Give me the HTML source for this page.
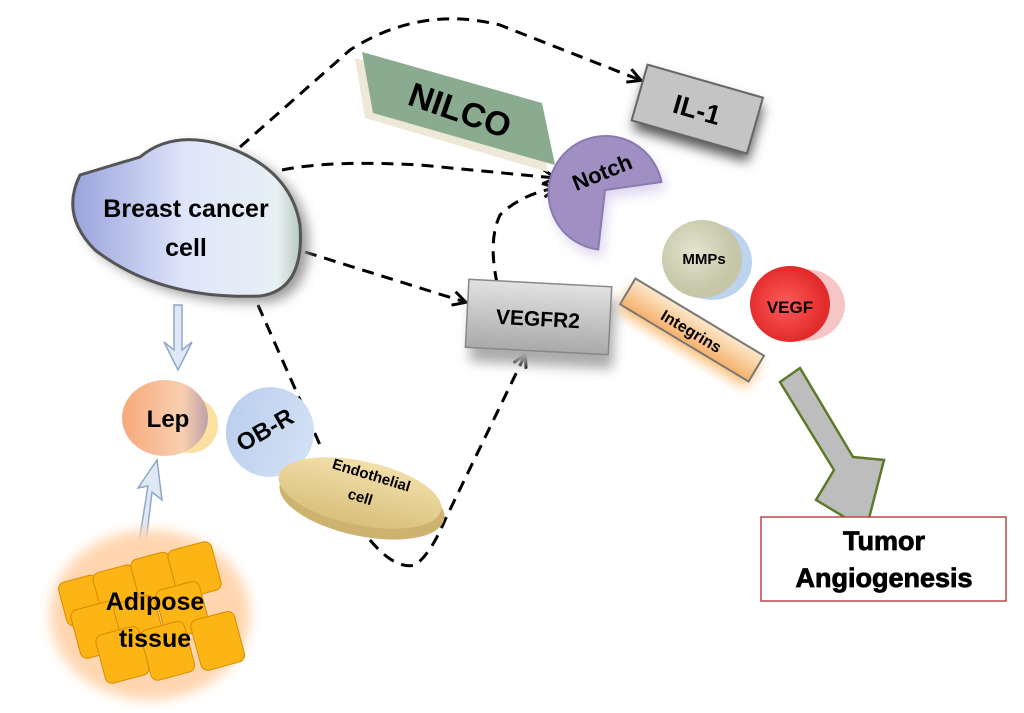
<!DOCTYPE html>
<html><head><meta charset="utf-8"><style>
body{margin:0;background:#fff;}
svg{display:block;font-family:"Liberation Sans",sans-serif;font-weight:bold;}
</style></head><body>
<svg width="1024" height="713" viewBox="0 0 1024 713">
<defs>
<linearGradient id="bc" x1="0" x2="1"><stop offset="0" stop-color="#9aa3dc"/><stop offset="0.5" stop-color="#dfe6fb"/><stop offset="0.9" stop-color="#e6f0f3"/><stop offset="1" stop-color="#b8c8c0"/></linearGradient>
<linearGradient id="lep" x1="0" x2="1"><stop offset="0" stop-color="#f7a97b"/><stop offset="0.7" stop-color="#f9cfb0"/><stop offset="1" stop-color="#c0a0a8"/></linearGradient>
<linearGradient id="obr" x1="0" x2="1"><stop offset="0" stop-color="#bcd0ee"/><stop offset="1" stop-color="#d2e0f4"/></linearGradient>
<linearGradient id="endo" x1="0" y1="0" x2="0" y2="1"><stop offset="0" stop-color="#f2dfaa"/><stop offset="1" stop-color="#d8c07c"/></linearGradient>
<linearGradient id="vr" x1="0" y1="0" x2="0" y2="1"><stop offset="0" stop-color="#e2e2e2"/><stop offset="1" stop-color="#a9a9a9"/></linearGradient>
<linearGradient id="intg" x1="0" y1="0" x2="0" y2="1"><stop offset="0" stop-color="#fde9cd"/><stop offset="1" stop-color="#f6b06a"/></linearGradient>
<radialGradient id="mm" cx="0.4" cy="0.4"><stop offset="0" stop-color="#e4e4cf"/><stop offset="1" stop-color="#c6c6a8"/></radialGradient>
<radialGradient id="vg" cx="0.45" cy="0.5"><stop offset="0" stop-color="#ff5a5a"/><stop offset="1" stop-color="#e22a2a"/></radialGradient>
<filter id="sh" x="-30%" y="-30%" width="160%" height="160%"><feGaussianBlur stdDeviation="6"/></filter>
<marker id="ah" markerWidth="16" markerHeight="16" refX="13" refY="8" orient="auto" markerUnits="userSpaceOnUse"><path d="M1,1 L14,8 L1,15" fill="none" stroke="#000" stroke-width="3"/></marker>
</defs>

<!-- dashed connectors -->
<g fill="none" stroke="#000" stroke-width="3" stroke-dasharray="12,8">
<path d="M240,147 L350,50 Q420,5 500,25 L640,80" marker-end="url(#ah)"/>
<path d="M282,170 Q330,160 420,165 L555,178" marker-end="url(#ah)"/>
<path d="M305,252 L465,302" marker-end="url(#ah)"/>
<path d="M258,305 L320,445"/>
<path d="M370,540 Q395,570 415,565 Q430,555 445,520 L525,355" marker-end="url(#ah)"/>
<path d="M497,283 Q488,240 500,215 Q520,195 555,188" marker-end="url(#ah)"/>
</g>

<!-- NILCO -->
<polygon points="355,58 535,112 548,172 365,118" fill="#eee8d8"/>
<polygon points="362,52 542,103 555,165 373,113" fill="#8aab90"/>
<text x="460" y="122" font-size="34" text-anchor="middle" transform="rotate(19 460 110)">NILCO</text>

<!-- IL-1 -->
<g transform="rotate(16 697 110)">
<rect x="640" y="88" width="120" height="58" fill="#555" filter="url(#sh)"/>
<rect x="637" y="80" width="120" height="58" fill="#c4c4c4" stroke="#666" stroke-width="2"/>
<text x="697" y="119" font-size="27" text-anchor="middle">IL-1</text>
</g>

<!-- Breast cancer cell -->
<path d="M80,175 Q130,160 140,157 Q170,132 215,143 Q290,165 300,225 Q305,290 260,296 Q160,300 95,250 Q60,215 80,175 Z" fill="#999" filter="url(#sh)" transform="translate(8,6)"/>
<path d="M80,175 Q130,160 140,157 Q170,132 215,143 Q290,165 300,225 Q305,290 260,296 Q160,300 95,250 Q60,215 80,175 Z" fill="url(#bc)" stroke="#555" stroke-width="3"/>
<text x="186" y="217" font-size="25" text-anchor="middle">Breast cancer</text>
<text x="186" y="256" font-size="25" text-anchor="middle">cell</text>

<!-- Notch -->
<path d="M605,190 L662,190 A57,57 0 1 0 590,248 Z" fill="#ddd6ee" filter="url(#sh)" transform="translate(4,8) rotate(-8 605 190)"/>
<path d="M605,190 L662,190 A57,57 0 1 0 590,248 Z" fill="#a08fc2" stroke="#8a7ab0" stroke-width="2" transform="rotate(-8 605 190)"/>
<text x="602" y="180" font-size="22" text-anchor="middle" transform="rotate(-22 602 172)">Notch</text>

<!-- MMPs, VEGF -->
<ellipse cx="712" cy="262" rx="40" ry="38" fill="#bcd4ee"/>
<ellipse cx="702" cy="259" rx="40" ry="39" fill="url(#mm)"/>
<text x="704" y="264" font-size="15" text-anchor="middle">MMPs</text>
<ellipse cx="805" cy="305" rx="40" ry="36" fill="#f6c5c5"/>
<ellipse cx="790" cy="304" rx="40" ry="38" fill="url(#vg)"/>
<text x="790" y="313" font-size="17" text-anchor="middle">VEGF</text>

<!-- Integrins -->
<g transform="rotate(31 692 330)">
<rect x="618" y="322" width="150" height="30" fill="#fbbf7a" filter="url(#sh)"/>
<rect x="617" y="315" width="150" height="30" fill="url(#intg)" stroke="#777" stroke-width="2"/>
<text x="692" y="337" font-size="16" text-anchor="middle">Integrins</text>
</g>

<!-- VEGFR2 -->
<g transform="rotate(3 538 318)">
<rect x="472" y="295" width="143" height="70" fill="#aaa" filter="url(#sh)"/>
<rect x="467" y="283" width="143" height="68" fill="url(#vr)" stroke="#888" stroke-width="1.5"/>
<text x="538" y="326" font-size="21" text-anchor="middle">VEGFR2</text>
</g>

<!-- Big arrow -->
<polygon points="780,382 800,368 853,457 884,460 866,530 816,500 834,470" fill="#bdbdbd" stroke="#5c7a2a" stroke-width="2.5"/>

<!-- Tumor box -->
<rect x="761" y="517" width="245" height="84" fill="#fff" stroke="#b84848" stroke-width="1.5"/>
<text x="884" y="550" font-size="27" text-anchor="middle" stroke="#000" stroke-width="0.8">Tumor</text>
<text x="884" y="587" font-size="27" text-anchor="middle" stroke="#000" stroke-width="0.8">Angiogenesis</text>

<!-- Lep, OB-R -->
<ellipse cx="190" cy="425" rx="28" ry="28" fill="#fbe0a0"/>
<ellipse cx="165" cy="418" rx="43" ry="38" fill="url(#lep)"/>
<text x="168" y="427" font-size="24" text-anchor="middle">Lep</text>
<ellipse cx="270" cy="432" rx="44" ry="45" fill="url(#obr)" transform="rotate(20 270 432)"/>
<text x="265" y="438" font-size="24" text-anchor="middle" transform="rotate(-30 265 430)">OB-R</text>

<!-- Endothelial -->
<ellipse cx="362" cy="502" rx="84" ry="34" fill="#cdb270" transform="rotate(12 362 502)"/>
<ellipse cx="360" cy="493" rx="83" ry="32" fill="url(#endo)" transform="rotate(12 360 493)"/>
<text x="370" y="480" font-size="15" text-anchor="middle" transform="rotate(17 370 480)">Endothelial</text>
<text x="360" y="502" font-size="15" text-anchor="middle" transform="rotate(17 360 498)">cell</text>

<!-- small arrows -->
<g fill="#dfe8f4" stroke="#8fa8c8" stroke-width="1.5">
<polygon points="174,305 182,305 182,350 192,342 178,370 164,342 174,350"/>
<polygon points="139,542 146,542 152,492 162,500 157,460 138,488 148,486"/>
</g>

<!-- Adipose tissue -->
<ellipse cx="150" cy="615" rx="100" ry="85" fill="#ffd6b0" filter="url(#sh)"/>
<g fill="#fdb515" stroke="#d98a00" stroke-width="1">
<rect x="62" y="578" width="40" height="45" rx="7" transform="rotate(-15 82 600)"/>
<rect x="97" y="568" width="42" height="48" rx="7" transform="rotate(-15 118 592)"/>
<rect x="135" y="555" width="40" height="50" rx="7" transform="rotate(-15 155 580)"/>
<rect x="172" y="545" width="45" height="50" rx="7" transform="rotate(-15 195 570)"/>
<rect x="75" y="605" width="45" height="50" rx="7" transform="rotate(-15 97 630)"/>
<rect x="118" y="598" width="42" height="50" rx="7" transform="rotate(-15 140 623)"/>
<rect x="160" y="585" width="45" height="50" rx="7" transform="rotate(-15 182 610)"/>
<rect x="100" y="630" width="45" height="50" rx="7" transform="rotate(-15 122 655)"/>
<rect x="145" y="625" width="45" height="52" rx="7" transform="rotate(-15 167 650)"/>
<rect x="195" y="615" width="45" height="52" rx="7" transform="rotate(-15 217 640)"/>
</g>
<text x="155" y="610" font-size="25" text-anchor="middle">Adipose</text>
<text x="155" y="647" font-size="25" text-anchor="middle">tissue</text>
</svg>
</body></html>
